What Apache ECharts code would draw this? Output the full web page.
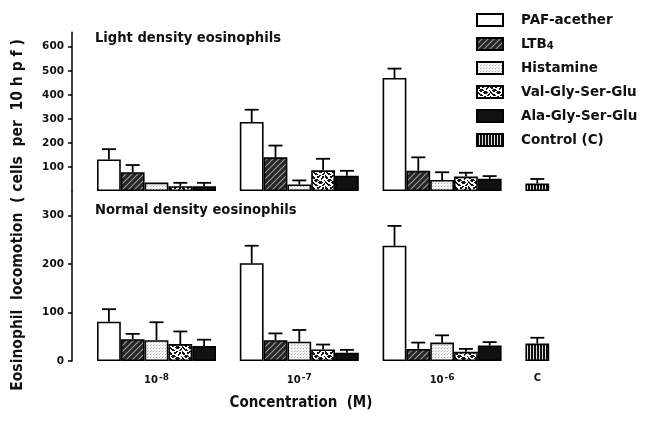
<!DOCTYPE html>
<html><head><meta charset="utf-8">
<script src="https://cdn.jsdelivr.net/npm/echarts@6/dist/echarts.min.js"></script>
<style>html,body{margin:0;padding:0;background:#fff}#c{width:648px;height:422px}</style>
</head><body><div id="c"></div>
<script>
// ---- data ----
const groups = ['-8', '-7', '-6'];           // 10^x concentrations (M)
const controlLabel = 'C';
const treatments = ['PAF-acether', 'LTB4', 'Histamine', 'Val-Gly-Ser-Glu', 'Ala-Gly-Ser-Glu'];
const controlName = 'Control (C)';

// Light density eosinophils (cells per 10 hpf): mean, and top of error bar
const lightPAF = [131, 287, 470];   const lightPAFErr = [174, 338, 509];
const lightLTB4 = [78, 140, 84];    const lightLTB4Err = [108, 189, 140];
const lightHist = [35, 27, 46];     const lightHistErr = [null, 44, 78];
const lightVal = [20, 86, 60];      const lightValErr = [34, 134, 76];
const lightAla = [20, 63, 51];      const lightAlaErr = [34, 84, 62];
const lightControl = 31;            const lightControlErr = 50;

// Normal density eosinophils
const normPAF = [81, 202, 238];     const normPAFErr = [107, 238, 279];
const normLTB4 = [45, 43, 25];      const normLTB4Err = [56, 57, 38];
const normHist = [43, 40, 38];      const normHistErr = [80, 64, 53];
const normVal = [35, 24, 19];       const normValErr = [61, 34, 25];
const normAla = [31, 17, 32];       const normAlaErr = [44, 23, 39];
const normControl = 36;             const normControlErr = 48;

const lightTicks = [100, 200, 300, 400, 500, 600];
const normTicks = [0, 100, 200, 300];

// ---- patterns ----
function pat(w, h, draw) { const c = document.createElement('canvas'); c.width = w; c.height = h; const g = c.getContext('2d'); draw(g); return { image: c, repeat: 'repeat' }; }
function bitmap(rows, bg, fg) {
  return pat(rows[0].length, rows.length, g => { g.fillStyle = bg; g.fillRect(0, 0, rows[0].length, rows.length); g.fillStyle = fg;
    rows.forEach((r, y) => [...r].forEach((v, x) => { if (v === '1') g.fillRect(x, y, 1, 1); })); });
}
const fills = [
  '#ffffff',
  pat(6, 6, g => { g.fillStyle = '#262626'; g.fillRect(0,0,6,6); g.strokeStyle = '#9a9a9a'; g.lineWidth = 1.1;
    g.beginPath(); g.moveTo(-1,7); g.lineTo(7,-1); g.moveTo(-4,4); g.lineTo(4,-4); g.moveTo(2,10); g.lineTo(10,2); g.stroke(); }),
  pat(3, 3, g => { g.fillStyle = '#f7f7f7'; g.fillRect(0,0,3,3); g.fillStyle = '#a8a8a8'; g.fillRect(0,0,1,1); g.fillStyle='#d0d0d0'; g.fillRect(1,2,1,1); }),
  bitmap(['1100011100110','1110011000110','0110000001100','0001110001000','0011111000001','1001100111000',
          '1100001111100','0110000111001','0011100000011','0001110000110','1000000110000'], '#ffffff', '#151515'),
  '#111111',
  pat(3, 2, g => { g.fillStyle = '#111'; g.fillRect(0,0,3,2); g.fillStyle = '#ddd'; g.fillRect(2,0,1,2); })
];

// ---- build slots ----
const NS = 19;
const slotCats = Array.from({length: NS}, (_, i) => 's' + i);
const slotLabel = {2: groups[0], 8: groups[1], 14: groups[2], 18: controlLabel};
function slotData(vals, t) { const d = new Array(NS).fill(null); vals.forEach((v, g) => { d[g * 6 + t] = v; }); return d; }
function ctrlData(v) { const d = new Array(NS).fill(null); d[18] = v; return d; }

const light = [lightPAF, lightLTB4, lightHist, lightVal, lightAla];
const lightE = [lightPAFErr, lightLTB4Err, lightHistErr, lightValErr, lightAlaErr];
const norm = [normPAF, normLTB4, normHist, normVal, normAla];
const normE = [normPAFErr, normLTB4Err, normHistErr, normValErr, normAlaErr];

function errData(vals, errs, cv, ce) {
  const out = [];
  vals.forEach((arr, t) => arr.forEach((v, g) => { if (errs[t][g] != null) out.push([g * 6 + t, v, errs[t][g]]); }));
  out.push([18, cv, ce]);
  return out;
}

const FONT = 'DejaVu Sans';
const TFONT = '"DejaVu Sans Condensed", "DejaVu Sans"';
const series = [];
[0, 1].forEach(gi => {
  const src = gi === 0 ? light : norm;
  treatments.forEach((name, t) => {
    series.push({ name, type: 'bar', xAxisIndex: gi, yAxisIndex: gi, data: slotData(src[t], t),
      barWidth: '100%', barGap: '-100%', itemStyle: { color: fills[t], borderColor: '#000', borderWidth: 1.6 }, silent: true });
  });
  series.push({ name: controlName, type: 'bar', xAxisIndex: gi, yAxisIndex: gi,
    data: ctrlData(gi === 0 ? lightControl : normControl), barWidth: '100%', barGap: '-100%',
    itemStyle: { color: fills[5], borderColor: '#000', borderWidth: 1.6 }, silent: true });
  series.push({ type: 'custom', xAxisIndex: gi, yAxisIndex: gi, z: 5, silent: true,
    data: gi === 0 ? errData(light, lightE, lightControl, lightControlErr) : errData(norm, normE, normControl, normControlErr),
    encode: { x: 0, y: [1, 2] },
    renderItem: (p, api) => {
      const b = api.coord([api.value(0), api.value(1)]);
      const e = api.coord([api.value(0), api.value(2)]);
      const st = { stroke: '#000', lineWidth: 1.8 };
      return { type: 'group', children: [
        { type: 'line', shape: { x1: b[0], y1: b[1], x2: e[0], y2: e[1] }, style: st },
        { type: 'line', shape: { x1: e[0] - 7, y1: e[1], x2: e[0] + 7, y2: e[1] }, style: st }
      ]};
    }
  });
});

const yCommon = {
  type: 'value', interval: 100, splitLine: { show: false }, offset: 25,
  axisLine: { show: true, lineStyle: { color: '#000', width: 1.5 } },
  axisTick: { show: true, length: 4, lineStyle: { color: '#000', width: 1.5 } },
  axisLabel: { color: '#111', fontFamily: FONT, fontWeight: 'bold', fontSize: 10.5, margin: 8 }
};

const option = {
  backgroundColor: '#fff',
  animation: false,
  legend: {
    orient: 'vertical', left: 471, top: 8, itemWidth: 26, itemHeight: 12, itemGap: 10, icon: 'rect',
    data: [...treatments, controlName],
    formatter: n => n === 'LTB4' ? 'LTB{s|4}' : n,
    textStyle: { fontFamily: FONT, fontWeight: 'bold', fontSize: 13.5, color: '#111', padding: [0, 0, 0, 13], lineHeight: 14,
      rich: { s: { fontFamily: FONT, fontWeight: 'bold', fontSize: 10, verticalAlign: 'bottom', padding: [6, 0, 0, 0] } } },
    selectedMode: false
  },
  grid: [
    { left: 97, width: 452.2, top: 32.3, height: 158.7 },
    { left: 97, width: 452.2, top: 191.5, height: 169.5 }
  ],
  xAxis: [0, 1].map(gi => ({
    type: 'category', gridIndex: gi, data: slotCats, boundaryGap: true,
    axisLine: { show: false }, axisTick: { show: false },
    axisLabel: { show: gi === 1, interval: 0, margin: 12, color: '#111', fontFamily: FONT, fontWeight: 'bold', fontSize: 10,
      formatter: (v, i) => slotLabel[i] == null ? '' : (i === 18 ? slotLabel[i] : '10{sup|' + slotLabel[i] + '}'),
      rich: { sup: { fontFamily: FONT, fontWeight: 'bold', fontSize: 9, verticalAlign: 'top', padding: [0, 0, 6, 1] } } }
  })),
  yAxis: [
    Object.assign({}, yCommon, { gridIndex: 0, min: 0, max: 660,
      axisTick: Object.assign({}, yCommon.axisTick, { customValues: lightTicks }),
      axisLabel: Object.assign({}, yCommon.axisLabel, { customValues: lightTicks }) }),
    Object.assign({}, yCommon, { gridIndex: 1, min: 0, max: 350,
      axisTick: Object.assign({}, yCommon.axisTick, { customValues: normTicks }),
      axisLabel: Object.assign({}, yCommon.axisLabel, { customValues: normTicks }) })
  ],
  graphic: [
    { type: 'text', left: 95, top: 31, style: { text: 'Light density eosinophils', font: 'bold 14.6px ' + TFONT, fill: '#111' } },
    { type: 'text', left: 95, top: 203, style: { text: 'Normal density eosinophils', font: 'bold 14.6px ' + TFONT, fill: '#111' } },
    { type: 'text', x: 301, y: 403, style: { text: 'Concentration  (M)', font: 'bold 15px ' + TFONT, fill: '#111', align: 'center', verticalAlign: 'middle' } },
    { type: 'text', x: 18, y: 215, rotation: Math.PI / 2, style: { text: 'Eosinophil  locomotion  ( cells  per  10 h p f )', font: 'bold 15.5px ' + TFONT, fill: '#111', align: 'center', verticalAlign: 'middle' } }
  ],
  series
};
echarts.init(document.getElementById('c'), null, { renderer: 'canvas' }).setOption(option);
</script>
</body></html>
